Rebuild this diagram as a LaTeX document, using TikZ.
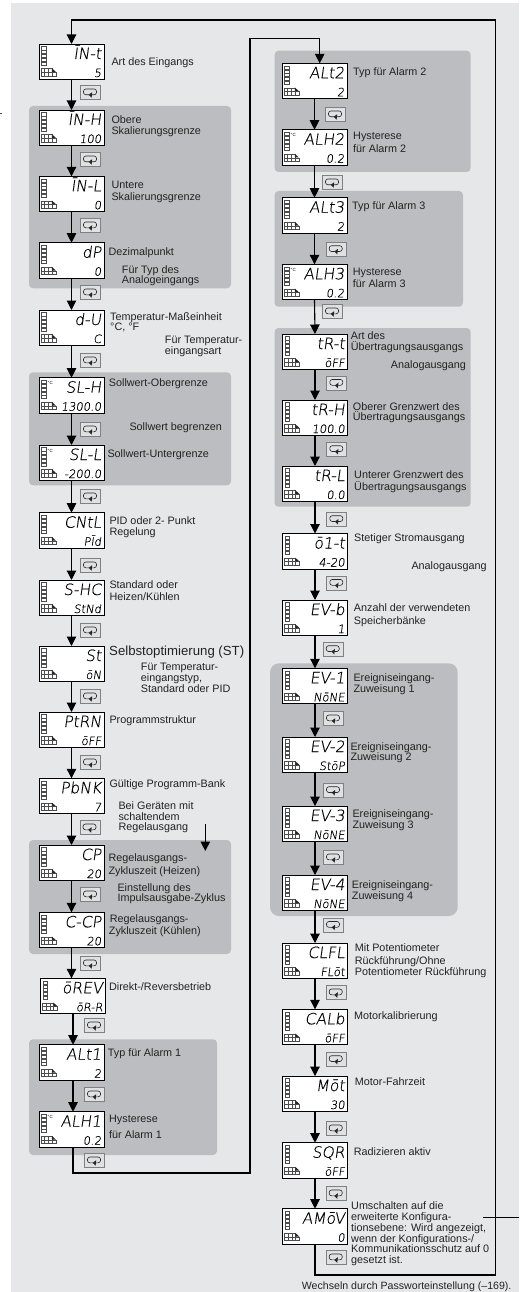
\documentclass[tikz,border=0pt]{standalone}
\usepackage{fontspec}
\setmainfont{Liberation Sans}
\newfontfamily\lcdfont[FakeSlant=0.14,FakeBold=0.35]{DejaVu Sans ExtraLight}
\usetikzlibrary{arrows.meta,calc}
\definecolor{bgc}{HTML}{E6E7E9}
\definecolor{grp}{HTML}{BCBDC0}
\definecolor{ink}{HTML}{222222}
\definecolor{icb}{HTML}{7F8081}
\newcounter{tc}
\tikzset{
  lineb/.style={draw=black,line width=1.1pt},
  flow/.style={lineb,-{Triangle[width=9.5pt,length=9.5pt]}},
  grpbox/.style={fill=grp,rounded corners=4pt},
  lcdbox/.style={draw=black,fill=white,line width=0.9pt,minimum width=65pt,minimum height=35.5pt,inner sep=0pt,outer sep=0pt,anchor=north west},
  lcdt/.style={inner sep=0pt,anchor=base east,font=\lcdfont\fontsize{15.5}{16}\selectfont,text=black},
  lcdb/.style={inner sep=0pt,anchor=base east,font=\lcdfont\fontsize{11.5}{12}\selectfont,text=black},
  lcdg/.style={draw=black!70,line width=0.35pt},
  lbl/.style={inner sep=0pt,anchor=base west,text=ink,font=\fontsize{10.8}{12}\selectfont},
  icbox/.style={draw=icb,fill=bgc!85!grp,line width=0.7pt,minimum width=20pt,minimum height=14pt,inner sep=0pt,anchor=north west},
  icpath/.style={draw=black!85,line width=0.6pt,rounded corners=2.4pt},
}
% name, left, top, upper reading, lower reading
\newcommand{\lcd}[5]{%
  \node[lcdbox] (#1) at (#2,#3) {};
  \node[lcdt] (#1u) at ($(#1.north east)+(-2.5,15)$) {#4};
  \node[lcdb] (#1l) at ($(#1.north east)+(-2.5,33)$) {#5};
  \foreach \k in {0,1,2,3,4}{\draw[lcdg] ($(#1.north west)+(2.6,2.6+3.8*\k)$) rectangle +(4.4,3.1);}
  \foreach \k in {0,1,2}{\draw[lcdg] ($(#1.north west)+(2+3.6*\k,24.5)$) rectangle +(3.6,3.6);
                         \draw[lcdg] ($(#1.north west)+(2+3.6*\k,28.1)$) rectangle +(3.6,3.6);}
  \draw[lcdg] ($(#1.north west)+(12.8,28.1)$) rectangle +(4,3.6);
  \fill[black!85] ($(#1.north west)+(12.8,24.2)$) -- +(4,3.6) -- +(0,3.6) -- cycle;
}
\newcommand{\lcddeg}[1]{\node[inner sep=0pt,anchor=base west,font=\fontsize{4.5}{5}\selectfont] (#1d) at ($(#1.north west)+(8.5,7)$) {°C};}
% name, left, top
\newcommand{\ic}[3]{%
  \node[icbox] (#1) at (#2,#3) {};
  \draw[icpath] ($(#1.north west)+(9,9.8)$) -- ++(-5.5,0) -- ++(0,-5.8) -- ++(13,0) -- ++(0,5.8) -- ++(-5.5,0);
  \fill[black!85] ($(#1.north west)+(8.6,9.8)$) -- +(3.6,-2.6) -- +(3,3) -- cycle;
}
\newcommand{\tx}[3]{\stepcounter{tc}\node[lbl] (t\arabic{tc}) at (#1,#2) {#3};}
\begin{document}
\begin{tikzpicture}[x=1pt,y=-1pt]
\useasboundingbox (0,0) rectangle (519,1292);
\fill[white] (0,0) rectangle (519,1292);
\fill[bgc] (11,3.3) rectangle (519,1292);
\coordinate (m1) at (0,113); \coordinate (m2) at (2,113);
\draw[black!70,line width=0.4pt] (m1) -- (m2);
% grey groups
\fill[grpbox] (29,106) rectangle (231,288.3);
\fill[grpbox] (29,372.3) rectangle (231,485.3);
\fill[grpbox] (29,840) rectangle (231,954);
\fill[grpbox] (29,1039.3) rectangle (217,1155);
\fill[grpbox] (274.5,50.7) rectangle (470.7,172);
\fill[grpbox] (274.5,191) rectangle (463,306.7);
\fill[grpbox] (274.5,328) rectangle (470.7,506.7);
\fill[grpbox,rounded corners=9pt] (270,663.3) rectangle (457.7,916);
% left column
\lcd{INT}{39}{44}{ĪN-t}{5}
\lcd{INH}{39}{110}{ĪN-H}{100}
\lcd{INL}{39}{176.3}{ĪN-L}{0}
\lcd{DP}{39}{242.7}{dP}{0}
\lcd{DU}{39}{310}{d-U}{C}
\lcd{SLH}{39}{377.7}{SL-H}{1300.0}\lcddeg{SLH}
\lcd{SLL}{39}{445}{SL-L}{-200.0}\lcddeg{SLL}
\lcd{CNTL}{39}{512.7}{CNtL}{PĪd}
\lcd{SHC}{39}{580}{S-HC}{StNd}
\lcd{ST}{39}{646}{St}{ōN}
\lcd{PTRN}{39}{712}{PtRN}{ōFF}
\lcd{PBNK}{39}{778.3}{PbNK}{7}
\lcd{CP}{39}{845}{CP}{20}
\lcd{CCP}{39}{912.3}{C-CP}{20}
\lcd{OREV}{40.5}{978.3}{ōREV}{ōR-R}
\lcd{ALTA}{39}{1044.7}{ALt1}{2}
\lcd{ALHA}{39}{1111.7}{ALH1}{0.2}\lcddeg{ALHA}
% right column
\lcd{ALTB}{282}{63.3}{ALt2}{2}
\lcd{ALHB}{282}{129.7}{ALH2}{0.2}\lcddeg{ALHB}
\lcd{ALTC}{282}{197.7}{ALt3}{2}
\lcd{ALHC}{282}{264.3}{ALH3}{0.2}\lcddeg{ALHC}
\lcd{TRT}{282.5}{334}{tR-t}{ōFF}
\lcd{TRH}{282.5}{400}{tR-H}{100.0}
\lcd{TRL}{282.5}{466}{tR-L}{0.0}
\lcd{OIT}{282.5}{533.5}{ō1-t}{4-20}
\lcd{EVB}{282.5}{600}{EV-b}{1}
\lcd{EVA}{282.5}{668.3}{EV-1}{NōNE}
\lcd{EVC}{282.5}{737}{EV-2}{StōP}
\lcd{EVD}{282.5}{806}{EV-3}{NōNE}
\lcd{EVE}{282.5}{875}{EV-4}{NōNE}
\lcd{CLFL}{282.5}{943}{CLFL}{FLōt}
\lcd{CALB}{282.5}{1009.3}{CALb}{ōFF}
\lcd{MOT}{282.5}{1076}{Mōt}{30}
\lcd{SQR}{282.5}{1142.7}{SQR}{ōFF}
\lcd{AMOV}{282.5}{1208.7}{AMōV}{0}
% cycle keys
\ic{k1}{80}{85}\ic{k2}{80}{152}\ic{k3}{80}{218}\ic{k4}{80}{285}\ic{k5}{80}{353}\ic{k6}{80}{422}\ic{k7}{80}{489}
\ic{k8}{80}{558}\ic{k9}{80}{623}\ic{k10}{80}{689}\ic{k11}{80}{755}\ic{k12}{79.5}{820}\ic{k13}{80}{887}\ic{k14}{80}{956}
\ic{k15}{84}{1018}\ic{k16}{84}{1087}\ic{k17}{84}{1153}
\ic{r1}{325}{107}\ic{r2}{322}{175}\ic{r3}{325.7}{241.7}\ic{r4}{322}{304}\ic{r5}{326.3}{375.5}\ic{r6}{326.3}{441.7}
\ic{r7}{326.3}{511.7}\ic{r8}{326.3}{575.5}\ic{r9}{322.7}{641.7}\ic{r10}{323}{711}\ic{r11}{323}{782.7}\ic{r12}{323}{850}
\ic{r13}{323}{917.5}\ic{r14}{325.7}{985}\ic{r15}{325.7}{1051.7}\ic{r16}{325.7}{1121}\ic{r17}{325.7}{1186}\ic{r18}{325.7}{1250}
% connectors
\foreach \a/\b in {INT/INH,INH/INL,INL/DP,DP/DU,DU/SLH,SLH/SLL,SLL/CNTL,CNTL/SHC,SHC/ST,ST/PTRN,PTRN/PBNK,PBNK/CP,CP/CCP,
  ALTB/ALHB,ALHB/ALTC,ALTC/ALHC,ALHC/TRT,TRT/TRH,TRH/TRL,TRL/OIT,OIT/EVB,EVB/EVA,EVA/EVC,EVC/EVD,EVD/EVE,EVE/CLFL,CLFL/CALB,CALB/MOT,MOT/SQR,SQR/AMOV}
  {\draw[flow] (\a.south) -- (\b.north);}
\draw[flow] (CCP.south) -- (CCP.south |- OREV.north);
\draw[flow] (OREV.south) -- (OREV.south |- ALTA.north);
\draw[flow] (OREV.south |- ALTA.south) -- (OREV.south |- ALHA.north);
\coordinate (c1) at (250,1173);
\coordinate (c2) at (250,38.3);
\draw[flow] (OREV.south |- ALHA.south) |- (c1) -- (c2) -| ([xshift=5.2pt]ALTB.north);
\coordinate (c3) at (495.5,1275);
\coordinate (c4) at (495.5,20);
\draw[flow] (AMOV.south) |- (c3) -- (c4) -| (INT.north);
\coordinate (c5) at (483,1217.3);
\coordinate (c6) at (519,1217.3);
\draw[lineb] (c5) -- (c6);
\coordinate (a1) at (205.3,824.3);
\coordinate (a2) at (205.3,851);
\draw[flow] (a1) -- (a2);
% texts left
\tx{111.3}{65.7}{Art des Eingangs}
\tx{111.3}{123.3}{Obere}\tx{111.3}{134.7}{Skalierungsgrenze}
\tx{111.3}{188.7}{Untere}\tx{111.3}{200.7}{Skalierungsgrenze}
\tx{108.3}{255.7}{Dezimalpunkt}
\tx{121.7}{273.3}{Für Typ des}\tx{121.7}{283.7}{Analogeingangs}
\tx{110}{320}{Temperatur-Maßeinheit}\tx{110}{330.7}{°C, °F}
\tx{164.7}{343.3}{Für Temperatur-}\tx{164.7}{354.3}{eingangsart}
\tx{108.7}{386.7}{Sollwert-Obergrenze}
\tx{129.3}{430}{Sollwert begrenzen}
\tx{107.3}{457.7}{Sollwert-Untergrenze}
\tx{109.3}{524}{PID oder 2- Punkt}\tx{109.3}{535}{Regelung}
\tx{109.3}{588.7}{Standard oder}\tx{109.3}{600}{Heizen/Kühlen}
\stepcounter{tc}\node[lbl,font=\fontsize{13.2}{14}\selectfont] (t\arabic{tc}) at (109,655) {Selbstoptimierung (ST)};
\tx{140.7}{670}{Für Temperatur-}\tx{140.7}{681.7}{eingangstyp,}\tx{140.7}{692.3}{Standard oder PID}
\tx{109.3}{723.3}{Programmstruktur}
\tx{109.3}{787.3}{Gültige Programm-Bank}
\tx{118.3}{809.3}{Bei Geräten mit}\tx{118.3}{820.3}{schaltendem}\tx{118.3}{830.7}{Regelausgang}
\tx{108.3}{861.7}{Regelausgangs-}\tx{108.3}{874}{Zykluszeit (Heizen)}
\tx{117.3}{891.7}{Einstellung des}\tx{117.3}{901.7}{Impulsausgabe-Zyklus}
\tx{109.7}{922.3}{Regelausgangs-}\tx{108.7}{934.7}{Zykluszeit (Kühlen)}
\tx{109}{990}{Direkt-/Reversbetrieb}
\tx{107.7}{1056.7}{Typ für Alarm 1}
\tx{109}{1122.7}{Hysterese}\tx{109}{1138.3}{für Alarm 1}
% texts right
\tx{353}{75.7}{Typ für Alarm 2}
\tx{353}{140}{Hysterese}\tx{353}{152.7}{für Alarm 2}
\tx{352}{209}{Typ für Alarm 3}
\tx{352.7}{275}{Hysterese}\tx{352.7}{287.7}{für Alarm 3}
\tx{350.7}{339.3}{Art des}\tx{350.7}{350.7}{Übertragungsausgangs}
\tx{390.7}{368}{Analogausgang}
\tx{352.7}{410}{Oberer Grenzwert des}\tx{352.7}{420.7}{Übertragungsausgangs}
\tx{354}{478.7}{Unterer Grenzwert des}\tx{354}{490}{Übertragungsausgangs}
\tx{354}{541.7}{Stetiger Stromausgang}
\tx{411.3}{569.3}{Analogausgang}
\tx{353.7}{611.7}{Anzahl der verwendeten}\tx{353.7}{624.7}{Speicherbänke}
\tx{353.3}{681.7}{Ereigniseingang-}\tx{353.3}{692.7}{Zuweisung 1}
\tx{350.3}{750}{Ereigniseingang-}\tx{350.3}{760.7}{Zuweisung 2}
\tx{352.3}{817.7}{Ereigniseingang-}\tx{352.3}{828.7}{Zuweisung 3}
\tx{351.7}{888.7}{Ereigniseingang-}\tx{351.7}{899.7}{Zuweisung 4}
\tx{354.7}{951.7}{Mit Potentiometer}\tx{354.7}{964}{Rückführung/Ohne}\tx{354.7}{975.7}{Potentiometer Rückführung}
\tx{354}{1019}{Motorkalibrierung}
\tx{354.7}{1085.7}{Motor-Fahrzeit}
\tx{353.7}{1155.7}{Radizieren aktiv}
\tx{351}{1209.3}{Umschalten auf die}\tx{351}{1220.7}{erweiterte Konfigura-}\tx{351}{1231.7}{tionsebene: Wird angezeigt,}
\tx{351}{1242.3}{wenn der Konfigurations-/}\tx{351}{1252.3}{Kommunikationsschutz auf 0}\tx{351}{1263.3}{gesetzt ist.}
\stepcounter{tc}\node[lbl,font=\fontsize{10.6}{12}\selectfont] (t\arabic{tc}) at (301.7,1289.5) {Wechseln durch Passworteinstellung (–169).};
\end{tikzpicture}
\end{document}
